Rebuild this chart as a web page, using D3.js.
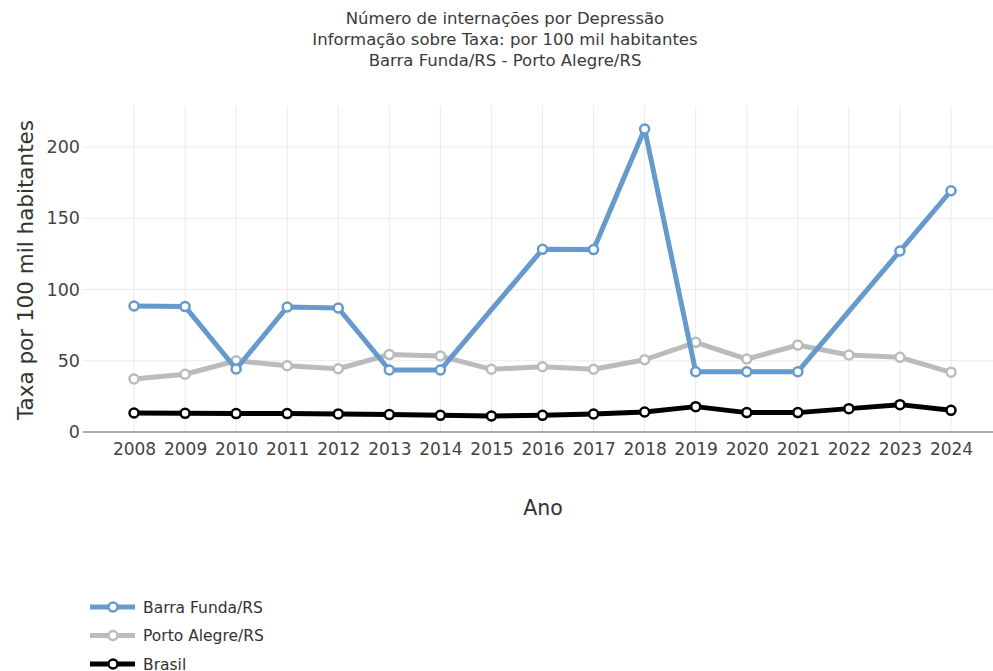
<!DOCTYPE html>
<html><head><meta charset="utf-8">
<script src="https://cdn.jsdelivr.net/npm/d3@7"></script>
<style>
body{margin:0;background:#fff;}
text{font-family:"DejaVu Sans",sans-serif;}
</style></head>
<body><svg id="c" width="993" height="671"></svg>
<script>
const years = ["2008","2009","2010","2011","2012","2013","2014","2015","2016","2017","2018","2019","2020","2021","2022","2023","2024"];
const barraFunda = [88.4,88,44.2,87.7,87,43.5,43.5,null,128.2,128,212.6,42.3,42.3,42.3,null,127,169.3];
const portoAlegre = [37.2,40.5,50,46.5,44.4,54.3,53.3,44,45.8,44,50.7,62.9,51.2,61,54,52.4,41.9];
const brasil = [13.3,13.1,12.9,12.9,12.7,12.2,11.7,11.2,11.7,12.6,14.0,17.8,13.6,13.6,16.4,19.2,15.2];
const yTicks = [0,50,100,150,200];
const titleLines = ["Número de internações por Depressão","Informação sobre Taxa: por 100 mil habitantes","Barra Funda/RS - Porto Alegre/RS"];
const seriesNames = ["Barra Funda/RS","Porto Alegre/RS","Brasil"];
const seriesColors = ["#6699cc","#bbbbbb","#000000"];

const series = [barraFunda, portoAlegre, brasil].map((v,i)=>({name:seriesNames[i], color:seriesColors[i], values:v}));
const svg = d3.select("#c");
const L=83, R=993, T=106, B=432;
const x = d3.scalePoint().domain(years).range([134,951]);
const y = d3.scaleLinear().domain([0,200]).range([B,147]);

// grid
svg.append("g").selectAll("line").data(yTicks.filter(d=>d>0)).join("line")
 .attr("x1",L).attr("x2",R).attr("y1",d=>y(d)).attr("y2",d=>y(d)).attr("stroke","#ebebeb").attr("stroke-width",1);
svg.append("g").selectAll("line").data(years).join("line")
 .attr("x1",d=>x(d)).attr("x2",d=>x(d)).attr("y1",T).attr("y2",B).attr("stroke","#ebebeb").attr("stroke-width",1);

// y axis labels
const ya = svg.append("g").attr("transform",`translate(${L},0)`).call(d3.axisLeft(y).tickValues(yTicks).tickSize(0).tickPadding(3));
ya.select(".domain").remove();
ya.selectAll("text").attr("font-size",17.5).attr("fill","#444").attr("font-family","DejaVu Sans");

// x axis
const xa = svg.append("g").attr("transform",`translate(0,${B})`).call(d3.axisBottom(x).tickSize(0).tickPadding(11));
xa.select(".domain").remove();
xa.selectAll("text").attr("font-size",17).attr("fill","#444").attr("font-family","DejaVu Sans");
svg.append("line").attr("x1",L).attr("x2",R).attr("y1",B).attr("y2",B).attr("stroke","#555").attr("stroke-width",1.2);

// lines
const line = d3.line().x(d=>x(d.yr)).y(d=>y(d.v));
series.slice().reverse().forEach(s=>{
  const pts = s.values.map((v,i)=>({yr:years[i], v})).filter(d=>d.v!=null);
  svg.append("path").datum(pts).attr("d",line).attr("fill","none").attr("stroke",s.color).attr("stroke-width",5).attr("stroke-linejoin","round");
  svg.append("g").selectAll("circle").data(pts).join("circle")
   .attr("cx",d=>x(d.yr)).attr("cy",d=>y(d.v)).attr("r",4.5).attr("fill","#fff").attr("stroke",s.color).attr("stroke-width",2.5);
});

// title
svg.append("g").selectAll("text").data(titleLines).join("text")
 .attr("x",505).attr("y",(d,i)=>24+i*21).attr("text-anchor","middle").attr("font-size",16.5).attr("fill","#3a3a3a").text(d=>d);

// axis titles
svg.append("text").attr("transform","translate(33,270) rotate(-90)").attr("text-anchor","middle").attr("font-size",21.5).attr("fill","#333").text("Taxa por 100 mil habitantes");
svg.append("text").attr("x",543).attr("y",515).attr("text-anchor","middle").attr("font-size",20.5).attr("fill","#333").text("Ano");

// legend
const lg = svg.append("g").selectAll("g").data(series).join("g").attr("transform",(d,i)=>`translate(90,${607+i*28.5})`);
lg.append("line").attr("x1",0).attr("x2",45).attr("stroke",d=>d.color).attr("stroke-width",5);
lg.append("circle").attr("cx",23).attr("r",4.5).attr("fill","#fff").attr("stroke",d=>d.color).attr("stroke-width",2.5);
lg.append("text").attr("x",53).attr("y",5.5).attr("font-size",15.5).attr("fill","#333").text(d=>d.name);
</script></body></html>
